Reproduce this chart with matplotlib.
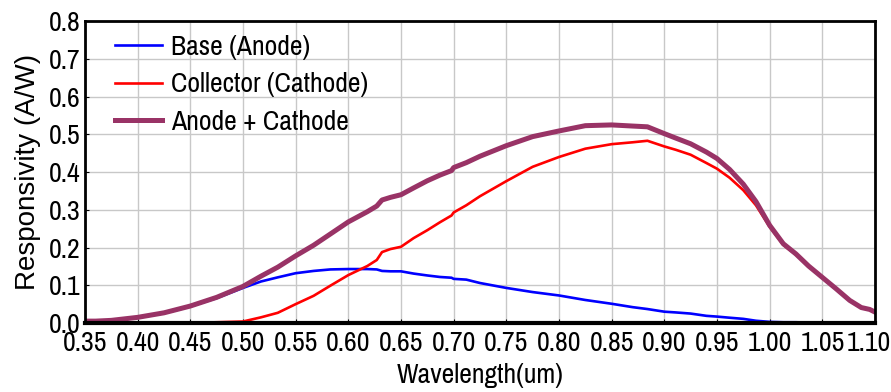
import matplotlib
matplotlib.use('Agg')
from matplotlib import pyplot as plt
from matplotlib import transforms

plt.rcParams['font.family'] = ['Archivo Narrow', 'Liberation Sans', 'DejaVu Sans']

wavelength = [0.35, 0.36, 0.375, 0.40, 0.425, 0.45, 0.475, 0.50, 0.517, 0.533,
              0.55, 0.567, 0.583, 0.60, 0.618, 0.627, 0.632, 0.64, 0.65, 0.662,
              0.675, 0.687, 0.698, 0.70, 0.712, 0.725, 0.75, 0.775, 0.80, 0.825,
              0.85, 0.87, 0.884, 0.90, 0.911, 0.925, 0.94, 0.95, 0.962, 0.975,
              0.987, 1.00, 1.013, 1.025, 1.037, 1.05, 1.063, 1.076, 1.087, 1.095, 1.10]

base = [0.004, 0.004, 0.006, 0.014, 0.026, 0.044, 0.066, 0.093, 0.110, 0.121,
        0.132, 0.138, 0.142, 0.143, 0.143, 0.142, 0.138, 0.137, 0.137, 0.131,
        0.126, 0.122, 0.120, 0.117, 0.115, 0.106, 0.093, 0.082, 0.073, 0.061,
        0.051, 0.042, 0.037, 0.030, 0.028, 0.025, 0.019, 0.017, 0.014, 0.011,
        0.006, 0.003, 0.002, 0.002, 0.001, 0.0, 0.0, 0.0, 0.0, 0.0, 0.0]

collector = [0.0, 0.0, 0.0, 0.0, 0.0, 0.0, 0.002, 0.004, 0.015, 0.027,
             0.050, 0.072, 0.099, 0.127, 0.151, 0.167, 0.188, 0.196, 0.202, 0.225,
             0.246, 0.267, 0.285, 0.293, 0.312, 0.336, 0.376, 0.414, 0.440, 0.462,
             0.474, 0.479, 0.483, 0.468, 0.459, 0.446, 0.424, 0.409, 0.385, 0.352,
             0.312, 0.255, 0.207, 0.181, 0.150, 0.120, 0.090, 0.059, 0.040, 0.035, 0.028]

total = [0.005, 0.005, 0.007, 0.015, 0.027, 0.045, 0.068, 0.097, 0.124, 0.148,
         0.178, 0.206, 0.236, 0.268, 0.295, 0.310, 0.326, 0.333, 0.340, 0.358,
         0.377, 0.392, 0.404, 0.412, 0.425, 0.442, 0.470, 0.494, 0.509, 0.523,
         0.525, 0.522, 0.520, 0.502, 0.490, 0.475, 0.453, 0.436, 0.407, 0.368,
         0.322, 0.259, 0.210, 0.183, 0.151, 0.121, 0.091, 0.060, 0.041, 0.036, 0.029]

xticks = [0.35, 0.40, 0.45, 0.50, 0.55, 0.60, 0.65, 0.70, 0.75, 0.80,
          0.85, 0.90, 0.95, 1.00, 1.05, 1.10]
yticks = [0.0, 0.1, 0.2, 0.3, 0.4, 0.5, 0.6, 0.7, 0.8]

fig = plt.figure(figsize=(8.91, 3.92), dpi=100)
ax = fig.add_axes([0.0954, 0.176, 0.8866, 0.770])

ax.plot(wavelength, base, color='#0000ff', lw=1.9, label='Base (Anode)')
ax.plot(wavelength, collector, color='#ff0000', lw=1.9, label='Collector (Cathode)')
ax.plot(wavelength, total, color='#993366', lw=3.6, label='Anode + Cathode')

ax.set_xlim(0.35, 1.10)
ax.set_ylim(0.0, 0.8)
ax.set_xticks(xticks)
ax.set_xticklabels(['%.2f' % t for t in xticks])
ax.set_yticks(yticks)
ax.set_yticklabels(['%.1f' % t for t in yticks])
ax.tick_params(direction='in', length=3, labelsize=20)
ax.tick_params(axis='x', pad=6)
ax.tick_params(axis='y', pad=3)
ax.grid(True, color='#c8c8c8', lw=1)
ax.set_axisbelow(True)

# last x label sits against the right edge, nudge it in
last = ax.get_xticklabels()[-1]
last.set_transform(last.get_transform() + transforms.ScaledTranslation(-6 / 100, 0, fig.dpi_scale_trans))

for side in ['left', 'top', 'right']:
    ax.spines[side].set_linewidth(2)
ax.spines['bottom'].set_linewidth(3)

ax.set_xlabel('Wavelength(um)', fontsize=20, labelpad=5)
ax.set_ylabel('Responsivity (A/W)', fontsize=20, labelpad=6,
              family=['Liberation Sans', 'DejaVu Sans'])

ax.legend(loc='upper left', frameon=False, fontsize=20, handlelength=1.7,
          handletextpad=0.3, labelspacing=0.45, borderpad=0, borderaxespad=0,
          bbox_to_anchor=(0.038, 0.955))

fig.savefig('out.png', dpi=100)
